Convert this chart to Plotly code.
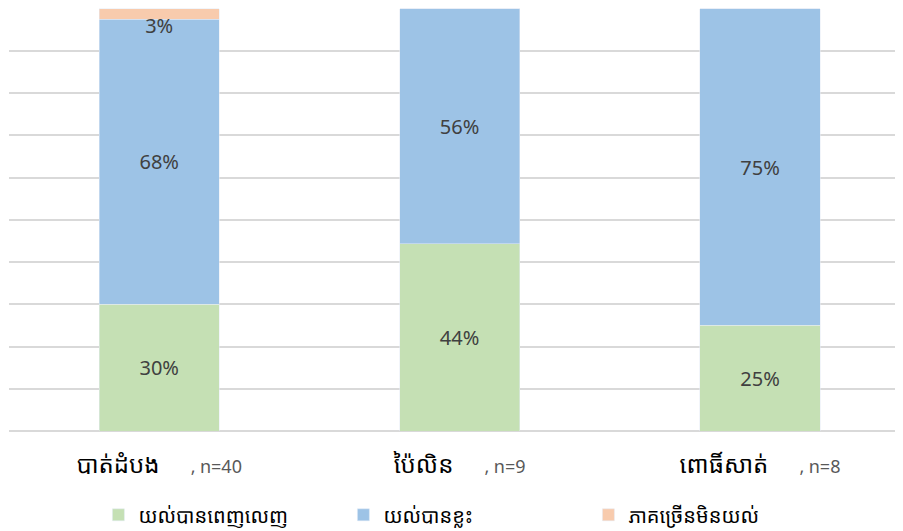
import plotly.graph_objects as go

# provinces (x axis) and sample sizes
provinces = ["បាត់ដំបង", "ប៉ៃលិន", "ពោធិ៍សាត់"]
sample_sizes = ["n=40", "n=9", "n=8"]

# share of respondents (%) per answer
series_names = ["យល់បានពេញលេញ", "យល់បានខ្លះ", "ភាគច្រើនមិនយល់"]
full_understanding = [30, 44.4, 25]
partial_understanding = [67.5, 55.6, 75]
mostly_not = [2.5, 0, 0]

colors = ["#C5E0B4", "#9DC3E6", "#F8CBAD"]

KHMER_FONT = "Khmer OS, Khmer UI, Noto Sans Khmer, Noto Sans, sans-serif"

x_pos = list(range(len(provinces)))
tick_text = [
    f"{p}\u00a0\u00a0\u00a0\u00a0\u00a0<span style='font-size:18px;color:#595959'>, {n}</span>"
    for p, n in zip(provinces, sample_sizes)
]

fig = go.Figure()
for name, vals, col in zip(series_names,
                           [full_understanding, partial_understanding, mostly_not],
                           colors):
    labels = [f"{v:.0f}%" if v > 0 else "" for v in vals]
    # fix rounding so labels match the shown values
    labels = [("68%" if v == 67.5 else ("3%" if v == 2.5 else t)) for v, t in zip(vals, labels)]
    # thin top segment: anchor its label to the bar top so it stays on the page
    anchor = "end" if name == series_names[2] else "middle"
    fig.add_trace(go.Bar(
        x=x_pos, y=vals, name=name, marker_color=col, width=0.4,
        text=labels, textposition="inside", insidetextanchor=anchor,
        constraintext="none", cliponaxis=False,
        textfont=dict(size=20, color="#404040", family="Noto Sans"),
        hoverinfo="skip",
    ))

# page body adds an 8px offset, so the figure is sized and placed to compensate
fig.update_layout(
    barmode="stack",
    width=895, height=523,
    margin=dict(l=1, r=0, t=0, b=100, autoexpand=False),
    plot_bgcolor="white", paper_bgcolor="white",
    showlegend=True,
    legend=dict(
        orientation="h", x=0.1, xanchor="left", y=-0.152, yanchor="top",
        font=dict(size=20, color="#000000", family=KHMER_FONT),
        entrywidth=200, entrywidthmode="pixels",
        traceorder="normal",
    ),
)
fig.update_xaxes(
    range=[-0.5, 2.476], tickvals=x_pos, ticktext=tick_text,
    showgrid=False, zeroline=False, showline=False, ticks="",
    tickfont=dict(size=24, color="#000000", family=KHMER_FONT),
    ticklabelstandoff=17, automargin=False,
)
fig.update_yaxes(
    range=[0, 100.2], dtick=10, showticklabels=False, automargin=False,
    gridcolor="#D9D9D9", gridwidth=1.5, zeroline=True,
    zerolinecolor="#D9D9D9", zerolinewidth=1.5,
)

fig.write_html("out.html")
